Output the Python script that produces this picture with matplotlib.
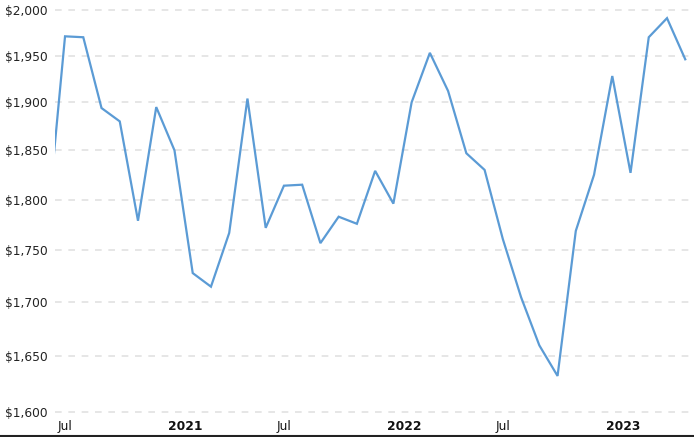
import matplotlib.pyplot as plt
from matplotlib.lines import Line2D
from matplotlib.ticker import FixedLocator, NullLocator

# month-end gold price, Jun 2020 .. May 2023
months = ['2020-06', '2020-07', '2020-08', '2020-09', '2020-10', '2020-11', '2020-12',
          '2021-01', '2021-02', '2021-03', '2021-04', '2021-05', '2021-06', '2021-07',
          '2021-08', '2021-09', '2021-10', '2021-11', '2021-12', '2022-01', '2022-02',
          '2022-03', '2022-04', '2022-05', '2022-06', '2022-07', '2022-08', '2022-09',
          '2022-10', '2022-11', '2022-12', '2023-01', '2023-02', '2023-03', '2023-04',
          '2023-05']
prices = [1770, 1971, 1970, 1894, 1880, 1779, 1895,
          1850, 1728, 1715, 1767, 1904, 1772, 1814,
          1815, 1757, 1783, 1776, 1829, 1796, 1900,
          1953, 1912, 1847, 1830, 1761, 1705, 1660,
          1632, 1769, 1825, 1928, 1827, 1970, 1991,
          1946]

yticks = [1600, 1650, 1700, 1750, 1800, 1850, 1900, 1950, 2000]
xtick_pos = [1, 7.6, 13, 19.6, 25, 31.6]
xtick_labels = ['Jul', '2021', 'Jul', '2022', 'Jul', '2023']

W, H = 694, 437
fig = plt.figure(figsize=(W / 100, H / 100), dpi=100)
ax = fig.add_axes([55 / W, 2 / H, 1 - 55 / W, 1 - 2 / H])

x = list(range(len(prices)))
ax.plot(x, prices, color='#5b9bd5', lw=1.6, solid_joinstyle='miter')

ax.set_yscale('log')
ax.set_ylim(1579.3, 2011.2)
ax.set_xlim(0.45, 35.48)

ax.yaxis.set_major_locator(FixedLocator(yticks))
ax.yaxis.set_minor_locator(NullLocator())
ax.set_yticklabels([f'${v:,}' for v in yticks])
for lab in ax.get_yticklabels():
    lab.set_verticalalignment('center_baseline')
ax.grid(axis='y', color='#e2e2e2', lw=1.2, ls=(0, (4, 4)))

ax.set_xticks(xtick_pos)
ax.set_xticklabels(xtick_labels)
for lab in ax.get_xticklabels():
    if lab.get_text() != 'Jul':
        lab.set_fontweight('bold')

ax.tick_params(axis='y', length=0, pad=5, labelsize=8.8, labelcolor='#222222')
ax.tick_params(axis='x', length=0, pad=-11, labelsize=8.8, labelcolor='#111111')
ax.set_axisbelow(True)

for s in ax.spines.values():
    s.set_visible(False)

fig.add_artist(Line2D([0, 1], [1.5 / H, 1.5 / H], color='#222222', lw=1.5,
                      transform=fig.transFigure))

fig.savefig('out.png', dpi=100)
